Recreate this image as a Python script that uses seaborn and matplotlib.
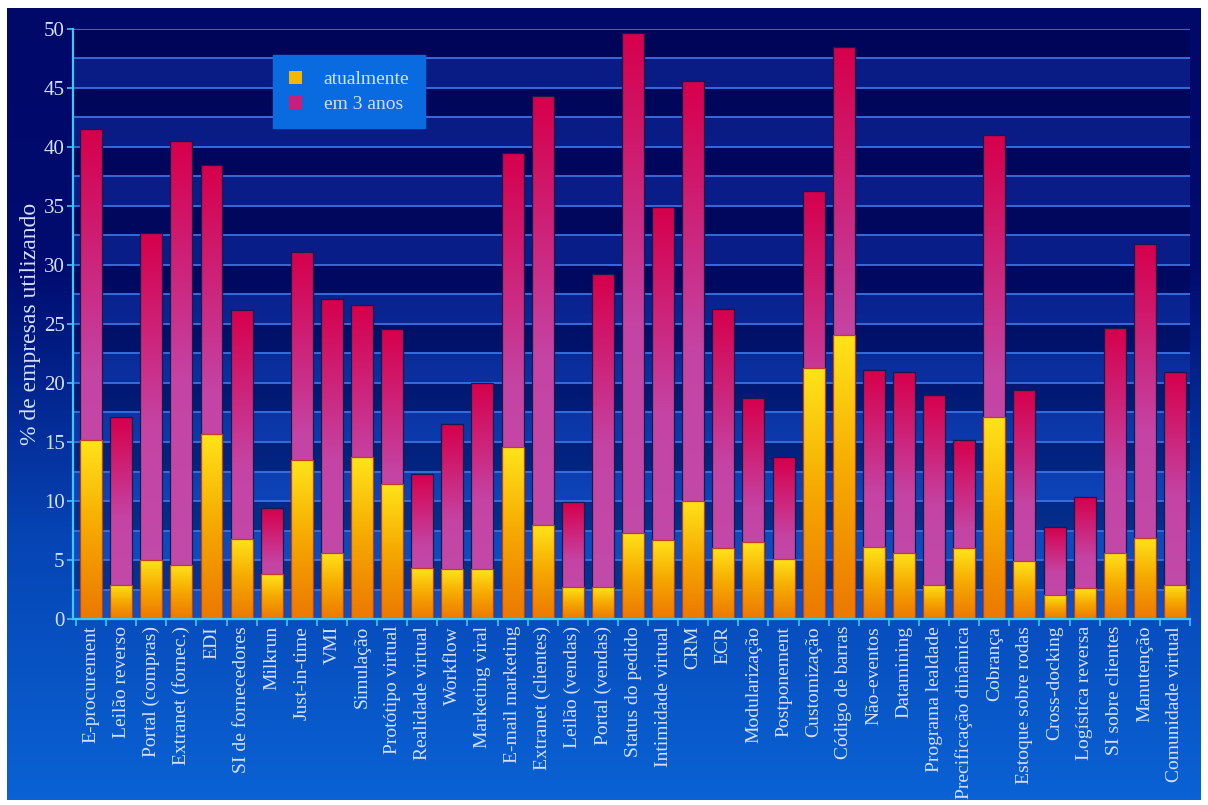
import numpy as np
import pandas as pd
import matplotlib
matplotlib.use('Agg')
import matplotlib.pyplot as plt
import seaborn as sns
from matplotlib.colors import LinearSegmentedColormap
from matplotlib.patches import Patch

# dados
tecnologias = ['E-procurement', 'Leilão reverso', 'Portal (compras)', 'Extranet (fornec.)',
               'EDI', 'SI de fornecedores', 'Milkrun', 'Just-in-time', 'VMI', 'Simulação',
               'Protótipo virtual', 'Realidade virtual', 'Workflow', 'Marketing viral',
               'E-mail marketing', 'Extranet (clientes)', 'Leilão (vendas)', 'Portal (vendas)',
               'Status do pedido', 'Intimidade virtual', 'CRM', 'ECR', 'Modularização',
               'Postponement', 'Customização', 'Código de barras', 'Não-eventos', 'Datamining',
               'Programa lealdade', 'Precificação dinâmica', 'Cobrança', 'Estoque sobre rodas',
               'Cross-docking', 'Logística reversa', 'SI sobre clientes', 'Manutenção',
               'Comunidade virtual']
atualmente = [15.2, 2.9, 5.0, 4.6, 15.7, 6.8, 3.8, 13.5, 5.6, 13.7,
              11.4, 4.3, 4.2, 4.2, 14.6, 8.0, 2.7, 2.7, 7.3, 6.7,
              10.0, 6.0, 6.5, 5.1, 21.3, 24.1, 6.1, 5.6, 2.9, 6.0,
              17.1, 4.9, 2.0, 2.6, 5.6, 6.9, 2.9]
em_3_anos = [41.5, 17.1, 32.7, 40.5, 38.5, 26.2, 9.4, 31.1, 27.1, 26.6,
             24.6, 12.3, 16.5, 20.0, 39.5, 44.3, 9.9, 29.2, 49.7, 34.9,
             45.6, 26.3, 18.7, 13.7, 36.3, 48.5, 21.1, 20.9, 19.0, 15.2,
             41.0, 19.4, 7.8, 10.3, 24.7, 31.8, 20.9]

df = pd.DataFrame({'tec': tecnologias, 'atual': atualmente, 'em3': em_3_anos})

serif = ['Liberation Serif', 'DejaVu Serif']
txt = '#d4e0ff'

fig = plt.figure(figsize=(12.08, 8.05), dpi=100)
fig.patch.set_facecolor('white')

# fundo do slide em degradê
bg = fig.add_axes([7/1208, 5/805, 1194/1208, 792/805])
bg_cmap = LinearSegmentedColormap.from_list('bg', ['#0a62d4', '#0644b4', '#000c70', '#000868'])
bg.imshow(np.linspace(0, 1, 256).reshape(-1, 1), cmap=bg_cmap, origin='lower',
          aspect='auto', extent=[0, 1, 0, 1])
bg.axis('off')

ax = fig.add_axes([73/1208, 186/805, (1190-73)/1208, 590/805])
ax.set_facecolor('none')

sns.barplot(data=df, x='tec', y='em3', color='#c8207a', width=0.73, ax=ax)
n = len(ax.patches)
sns.barplot(data=df, x='tec', y='atual', color='#f5b800', width=0.73, ax=ax)
bars = list(ax.patches)

cmap_mag = LinearSegmentedColormap.from_list('mag', [(0, '#c04cab'), (0.5, '#c444a4'), (1, '#d6004c')])
cmap_yel = LinearSegmentedColormap.from_list('yel', ['#ec7800', '#f6a800', '#ffe41a'])
grad = np.linspace(0, 1, 256).reshape(-1, 1)

for k, p in enumerate(bars):
    cmap = cmap_mag if k < n else cmap_yel
    z = 2 if k < n else 3
    x0, y0, w, h = p.get_x(), p.get_y(), p.get_width(), p.get_height()
    im = ax.imshow(grad, cmap=cmap, origin='lower', aspect='auto',
                   extent=[x0, x0 + w, y0, y0 + h], zorder=z, interpolation='bicubic')
    im.set_clip_path(p)
    p.set_facecolor('none')
    p.set_edgecolor('#1c1848' if k < n else '#c0401a')
    p.set_linewidth(0.9)
    p.set_zorder(z + 0.5)

# faixas alternadas + linhas de grade
for i in range(20):
    lo = i * 2.5
    if i % 2 == 1:
        ax.axhspan(lo, lo + 2.5, color='#000038', alpha=0.30, lw=0, zorder=0)
    else:
        ax.axhspan(lo, lo + 2.5, color='#2a60e8', alpha=0.22, lw=0, zorder=0)
for v in np.arange(2.5, 50.1, 2.5):
    ax.axhline(v, color='#3a72e2', lw=1.3, zorder=0.5)

ax.set_xlim(-0.6, len(tecnologias) - 0.5)
ax.set_ylim(0, 50)
ax.set_yticks(np.arange(0, 51, 5))
ax.set_xticks(range(len(tecnologias)))
ax.set_xticklabels(tecnologias, rotation=90, family=serif, fontsize=14, color=txt)
ax.set_xticks(np.arange(-0.5, len(tecnologias), 1), minor=True)
for lab in ax.get_yticklabels():
    lab.set_family(serif)
ax.tick_params(axis='y', colors='#3cc8f0', labelcolor=txt, labelsize=15, length=4, width=1.2, pad=2)
ax.tick_params(axis='x', which='major', length=0, pad=5)
ax.tick_params(axis='x', which='minor', length=5, width=1.2, colors='#3cc8f0')
ax.set_xlabel('')
ax.set_ylabel('% de empresas utilizando', family=serif, fontsize=17, color=txt, labelpad=2)
for s in ['top', 'right']:
    ax.spines[s].set_visible(False)
for s in ['left', 'bottom']:
    ax.spines[s].set_color('#3cc8f0')
    ax.spines[s].set_linewidth(1.6)
    ax.spines[s].set_zorder(5)

handles = [Patch(facecolor='#f5b800', edgecolor='none', label='atualmente'),
           Patch(facecolor='#c8207a', edgecolor='none', label='em 3 anos')]
leg = ax.legend(handles=handles, loc='upper left', bbox_to_anchor=(273/1208, 1 - 55/805),
                bbox_transform=fig.transFigure, borderaxespad=0, frameon=True,
                fancybox=False, facecolor='#0a6ae0', edgecolor='#0a6ae0', framealpha=1,
                handlelength=0.7, handleheight=0.7, handletextpad=1.1, borderpad=0.8,
                labelspacing=0.35, prop={'family': serif, 'size': 14})
for t in leg.get_texts():
    t.set_color(txt)
leg.set_zorder(6)

fig.savefig('out.png', dpi=100)
